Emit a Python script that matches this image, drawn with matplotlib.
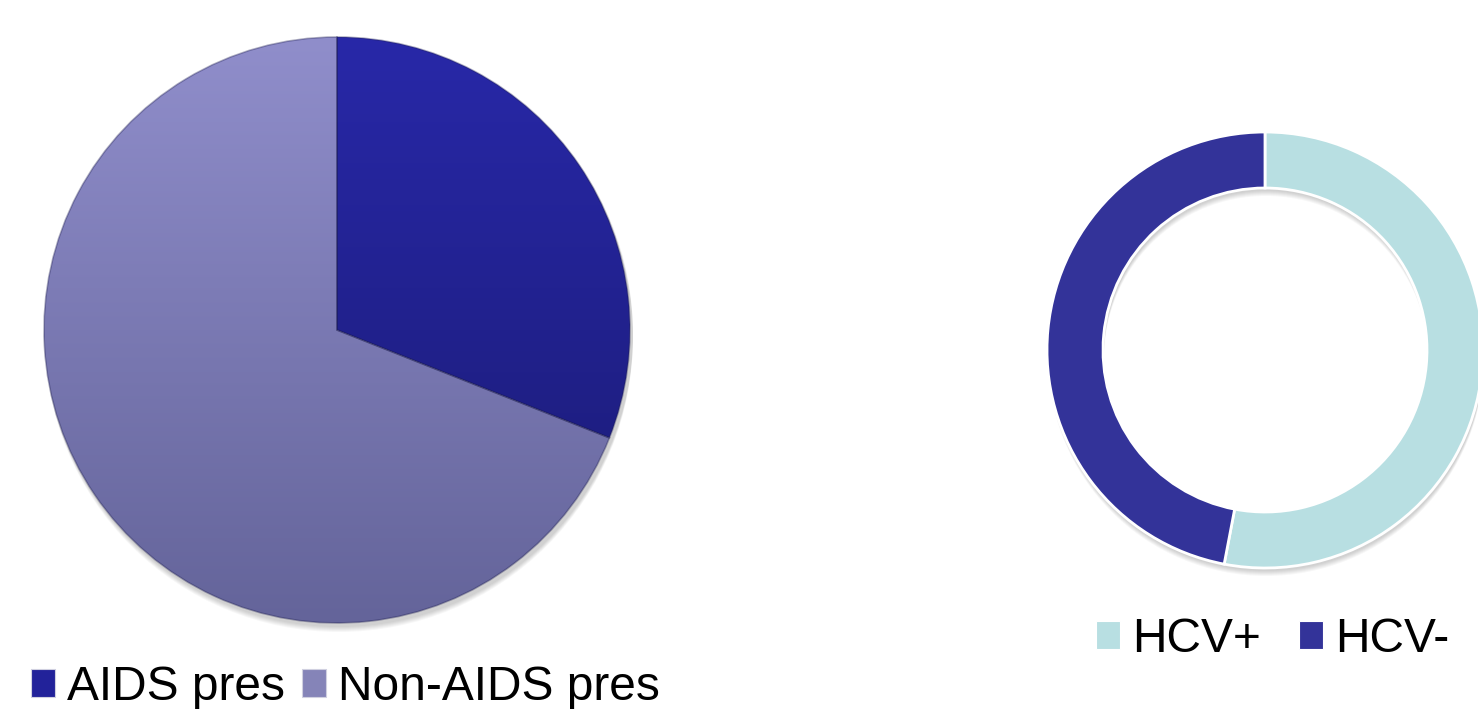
import numpy as np
import matplotlib.pyplot as plt
from matplotlib.patches import Wedge
from matplotlib.colors import to_rgb

plt.rcParams['font.family'] = ['Liberation Sans', 'DejaVu Sans']

# left pie: presentation type
pres_labels = ['AIDS pres', 'Non-AIDS pres']
pres_values = [31, 69]
pres_top = ['#2828a8', '#908ecb']
pres_bottom = ['#1a1a72', '#64649a']

# right donut: HCV status
hcv_labels = ['HCV+', 'HCV-']
hcv_values = [53, 47]
hcv_colors = ['#b8dfe2', '#333399']


def gradient(c1, c2, n=256):
    a, b = np.array(to_rgb(c1)), np.array(to_rgb(c2))
    t = np.linspace(0, 1, n)[:, None]
    return (a * (1 - t) + b * t)[:, None, :]


W, H = 1478, 709
fig = plt.figure(figsize=(W / 100, H / 100), dpi=100)
ax = fig.add_axes([0, 0, 1, 1])
ax.set_xlim(0, W)
ax.set_ylim(0, H)
ax.axis('off')

# pie
pc, pr = (337, H - 330), 293
for k in range(6):
    ax.add_patch(plt.Circle((pc[0] + 2, pc[1] - 3 - k), pr + 1, color='black',
                            alpha=0.03, lw=0, zorder=0))
wedges, _ = ax.pie(pres_values, center=pc, radius=pr, startangle=90,
                   counterclock=False, colors=['none', 'none'],
                   wedgeprops=dict(linewidth=0))
for w, c1, c2 in zip(wedges, pres_top, pres_bottom):
    img = ax.imshow(gradient(c1, c2), extent=[pc[0] - pr, pc[0] + pr, pc[1] - pr, pc[1] + pr],
                    aspect='auto', origin='upper', zorder=1)
    img.set_clip_path(w)
    w.set_fill(False)
    w.set_edgecolor((0.1, 0.1, 0.3, 0.35))
    w.set_linewidth(1.2)
    w.set_zorder(2)

# donut, with a soft ring shadow underneath
dc, dr, dw = (1265, H - 350), 218, 56
for k in range(6):
    ax.add_patch(Wedge((dc[0] + 1, dc[1] - 3 - k), dr, 0, 360, width=dw,
                       color='black', alpha=0.03, lw=0, zorder=0))
dwedges, _ = ax.pie(hcv_values, center=dc, radius=dr, startangle=90,
                    counterclock=False, colors=hcv_colors,
                    wedgeprops=dict(width=dw, edgecolor='white', linewidth=2))
for w in dwedges:
    w.set_zorder(2)

ax.set_xlim(0, W)
ax.set_ylim(0, H)

# legends
leg_handles = [plt.Rectangle((0, 0), 1, 1, fc=c, ec='#d0d0e0', lw=0.8)
               for c in ['#22229a', '#8584b8']]
fig.legend(leg_handles, pres_labels, loc='lower left',
           bbox_to_anchor=(31 / W, -1 / H), ncol=2, frameon=False, fontsize=34.5,
           handlelength=0.5, handleheight=0.5, handletextpad=0.25,
           columnspacing=0.35, borderaxespad=0.0, borderpad=0.0)

hcv_handles = [plt.Rectangle((0, 0), 1, 1, fc=c, ec='white', lw=0.8) for c in hcv_colors]
fig.legend(hcv_handles, hcv_labels, loc='lower left',
           bbox_to_anchor=(1096 / W, (H - 662) / H), ncol=2, frameon=False, fontsize=34.5,
           handlelength=0.5, handleheight=0.5, handletextpad=0.25,
           columnspacing=0.8, borderaxespad=0.0, borderpad=0.0)

fig.savefig('out.png', dpi=100)
